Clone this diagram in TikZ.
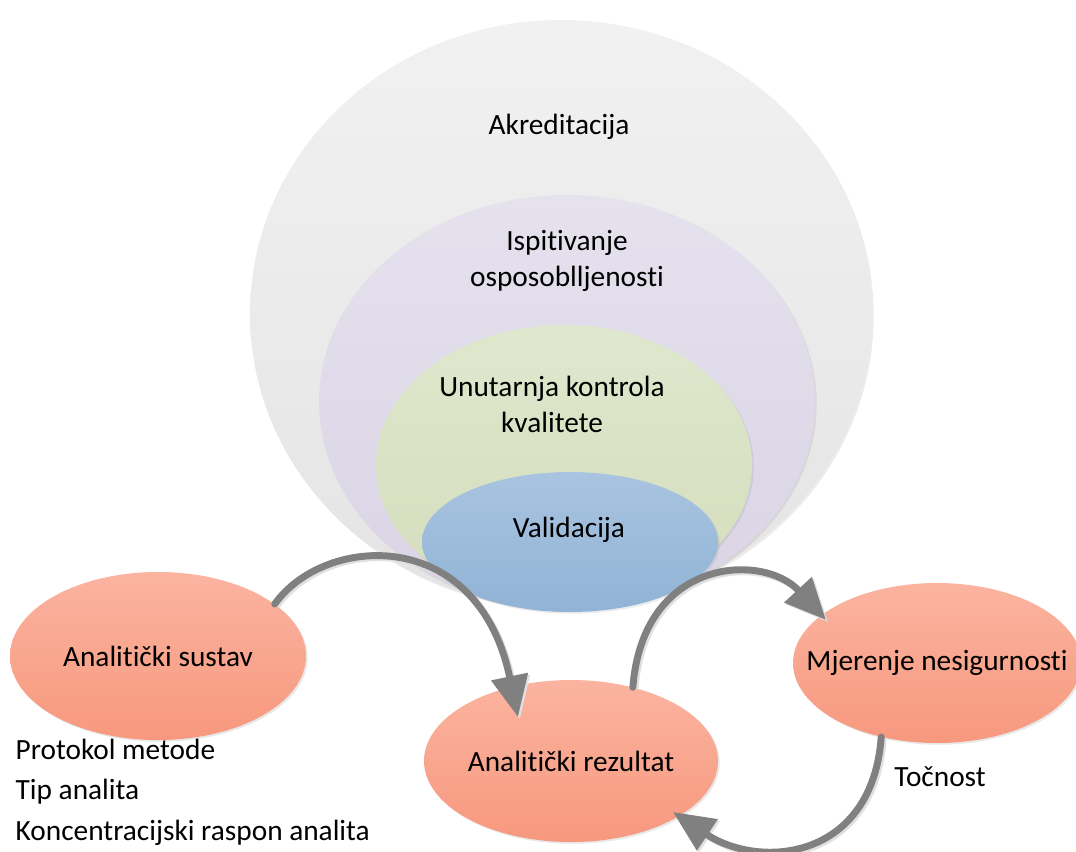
\documentclass[tikz,border=0pt]{standalone}
\usepackage{fontspec}
\setmainfont{Carlito}[Ligatures=NoCommon]
\usetikzlibrary{shapes.geometric,arrows.meta,shadows}

\definecolor{akrTop}{RGB}{241,241,241}
\definecolor{akrBot}{RGB}{228,228,228}
\definecolor{ispTop}{RGB}{229,225,237}
\definecolor{ispBot}{RGB}{218,212,229}
\definecolor{ukkTop}{RGB}{223,231,205}
\definecolor{ukkBot}{RGB}{213,221,189}
\definecolor{valTop}{RGB}{168,196,224}
\definecolor{valBot}{RGB}{145,179,214}
\definecolor{salTop}{RGB}{251,180,160}
\definecolor{salBot}{RGB}{247,152,126}
\definecolor{arrGray}{RGB}{128,128,128}

\begin{document}
\begin{tikzpicture}[x=0.75pt,y=0.75pt,yscale=-1,xscale=1,
  every node/.style={font=\fontsize{22}{27}\selectfont},
  ring/.style={ellipse, inner sep=0pt, drop shadow={shadow xshift=1.3pt, shadow yshift=-1.3pt, opacity=0.15}},
  salmon/.style={ellipse, inner xsep=-60pt, inner ysep=0pt, top color=salTop, bottom color=salBot, drop shadow={shadow xshift=1.3pt, shadow yshift=-1.3pt, opacity=0.18}},
  flow/.style={draw=arrGray, line width=5.2pt, line cap=round, -{Triangle[length=31pt,width=27pt]}, preaction={draw=black!12, line width=5.2pt, transform canvas={shift={(1.5pt,-1.5pt)}}}}
]
%set diagram size 1076 x 851
\path[use as bounding box] (0,0) rectangle (1076,851);

%Nested ellipses
\node[ring, top color=akrTop, bottom color=akrBot, minimum width=466.5pt, minimum height=441pt] (akr) at (561,314) {};
\node[ring, top color=ispTop, bottom color=ispBot, minimum width=372pt, minimum height=310.5pt] (isp) at (567,402) {};
\node[ring, top color=ukkTop, bottom color=ukkBot, minimum width=282pt, minimum height=210pt] (ukk) at (564,465) {};
\node[ring, top color=valTop, bottom color=valBot, minimum width=222pt, minimum height=105pt] (val) at (570,542) {};

% Text Node
\node (akrText) at (559,127) {Akreditacija};
% Text Node
\node[align=center] (ispText) at (567,261) {Ispitivanje\\osposoblljenosti};
% Text Node
\node[align=center] (ukkText) at (552,404) {Unutarnja kontrola\\kvalitete};
% Text Node
\node (valText) at (569,530) {Validacija};

%Process ellipses
\node[salmon, minimum width=222pt, minimum height=126pt] (sustav) at (158,656) {Analitički sustav};
\node[salmon, minimum width=220.5pt, minimum height=121.5pt] (rez) at (571,761) {Analitički rezultat};
\node[salmon, minimum width=216pt, minimum height=120pt] (mjer) at (937,663) {Mjerenje nesigurnosti};

% Text Node
\node[anchor=west, align=left, font=\fontsize{22}{30.5}\selectfont] (svojstva) at (11,792) {Protokol metode\\Tip analita\\Koncentracijski raspon analita};
% Text Node
\node (tocnost) at (940,777) {Točnost};

%Arrow tips
\coordinate (tipA) at ([shift={(-53,-44)}]rez.center);
\coordinate (tipB) at ([shift={(-111,-43)}]mjer.center);
\coordinate (tipC) at ([shift={(102,51)}]rez.center);

%Curved arrows
\draw[flow] (sustav.24) .. controls +(50,-70) and +(-40,-192) .. (tipA);
\draw[flow] (rez.50) .. controls +(10,-130) and +(-63,-68) .. (tipB);
\draw[flow] (mjer.233) .. controls +(-9,123) and +(87,58) .. (tipC);

\end{tikzpicture}
\end{document}
